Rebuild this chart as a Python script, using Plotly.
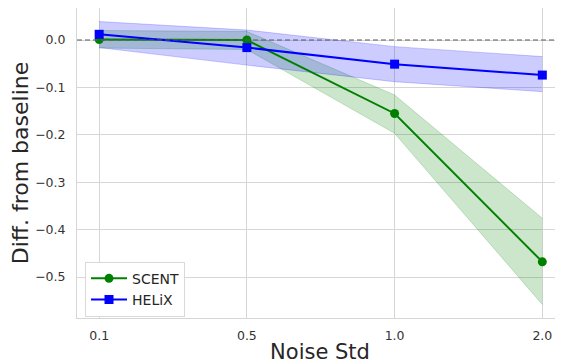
import plotly.graph_objects as go

noise_std = ["0.1", "0.5", "1.0", "2.0"]

scent_mean = [0.001, 0.0, -0.155, -0.468]
scent_low = [-0.017, -0.020, -0.197, -0.558]
scent_high = [0.020, 0.018, -0.116, -0.376]

helix_mean = [0.012, -0.016, -0.051, -0.074]
helix_low = [-0.016, -0.053, -0.088, -0.109]
helix_high = [0.039, 0.021, -0.014, -0.035]

y_ticks = [0.0, -0.1, -0.2, -0.3, -0.4, -0.5]
y_tick_text = ["0.0", "−0.1", "−0.2", "−0.3", "−0.4", "−0.5"]

fig = go.Figure()

def band(low, high, fill, edge):
    fig.add_trace(go.Scatter(x=noise_std, y=high, mode="lines",
                             line=dict(color=edge, width=1), showlegend=False, hoverinfo="skip"))
    fig.add_trace(go.Scatter(x=noise_std, y=low, mode="lines", fill="tonexty",
                             fillcolor=fill, line=dict(color=edge, width=1),
                             showlegend=False, hoverinfo="skip"))

band(scent_low, scent_high, "rgba(0,128,0,0.2)", "rgba(0,128,0,0.2)")
band(helix_low, helix_high, "rgba(0,0,255,0.2)", "rgba(0,0,255,0.2)")

fig.add_hline(y=0, line=dict(color="#5a5a5a", width=1.2, dash="5px,3px"))

fig.add_trace(go.Scatter(x=noise_std, y=scent_mean, mode="lines+markers", name="SCENT",
                         legendgroup="a",
                         line=dict(color="green", width=2),
                         marker=dict(symbol="circle", size=9, color="green")))
fig.add_trace(go.Scatter(x=noise_std, y=helix_mean, mode="lines+markers", name="HELiX",
                         legendgroup="b",
                         line=dict(color="blue", width=2),
                         marker=dict(symbol="square", size=9, color="blue")))

fig.update_layout(
    width=555, height=356,
    margin=dict(l=69, r=0, t=0, b=46, autoexpand=False),
    paper_bgcolor="white", plot_bgcolor="white",
    font=dict(family="DejaVu Sans", color="#333333"),
    legend=dict(x=0.0165, y=0.004, xanchor="left", yanchor="bottom", traceorder="normal",
                tracegroupgap=4, itemwidth=36,
                bgcolor="white", bordercolor="#d9d9d9", borderwidth=1,
                font=dict(size=14, color="#262626")),
    xaxis=dict(type="category", range=[-0.15, 3.14], automargin=False,
               showgrid=True, gridcolor="#d6d6d6", gridwidth=1,
               showline=True, linecolor="#d6d6d6", linewidth=1, mirror=False,
               ticks="", ticklabelstandoff=6, tickfont=dict(size=12.5, color="#333333"),
               title=dict(text="Noise Std", font=dict(size=21, color="#262626"), standoff=8)),
    yaxis=dict(range=[-0.5865, 0.0675], automargin=False,
               tickvals=y_ticks, ticktext=y_tick_text,
               showgrid=True, gridcolor="#d6d6d6", gridwidth=1, zeroline=False,
               showline=True, linecolor="#d6d6d6", linewidth=1,
               ticks="", ticklabelstandoff=8, tickfont=dict(size=12.5, color="#333333"),
               title=dict(text="Diff. from baseline", font=dict(size=22, color="#262626"), standoff=10)),
)

fig.write_html("out.html")
